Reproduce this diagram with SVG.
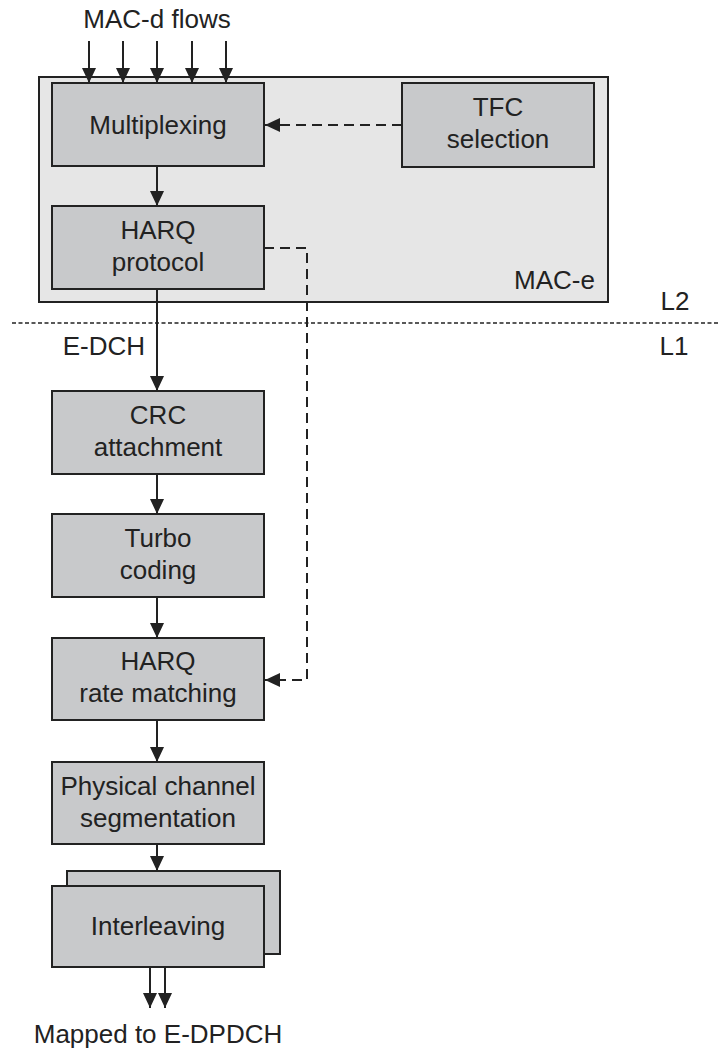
<svg xmlns="http://www.w3.org/2000/svg" width="718" height="1050" viewBox="0 0 718 1050">
<style>
.box{fill:#c8c9cb;stroke:#222;stroke-width:2}
.outer{fill:#e6e6e6;stroke:#222;stroke-width:2}
.t{font-family:"Liberation Sans",Arial,sans-serif;font-size:26px;fill:#222;text-anchor:middle}
.c{fill:none;stroke:#222;stroke-width:2}
.d{fill:none;stroke:#222;stroke-width:2;stroke-dasharray:10 6}
.dot{fill:none;stroke:#222;stroke-width:1.6;stroke-dasharray:4 2.5}
</style>
<defs>
<marker id="ah" viewBox="0 0 15 14" refX="15" refY="7" markerWidth="15" markerHeight="14" markerUnits="userSpaceOnUse" orient="auto">
<path d="M0,0 L15,7 L0,14 z" fill="#222"/>
</marker>
</defs>
<rect x="0" y="0" width="718" height="1050" fill="#fff"/>
<g id="mac-e">
<rect class="outer" x="39" y="77" width="569" height="225"/>
<text class="t" x="595" y="289" style="text-anchor:end">MAC-e</text>
</g>
<g id="layers">
<line class="dot" x1="12" y1="323" x2="718" y2="323"/>
<text class="t" x="675" y="310">L2</text>
<text class="t" x="674" y="355">L1</text>
</g>
<text class="t" x="157" y="28">MAC-d flows</text>
<g id="multiplexing">
<rect class="box" x="52" y="83" width="212" height="83"/>
<text class="t" x="158" y="134">Multiplexing</text>
</g>
<g id="tfc">
<rect class="box" x="402" y="83" width="192" height="84"/>
<text class="t" x="498" y="116">TFC</text>
<text class="t" x="498" y="148">selection</text>
</g>
<g id="harq-protocol">
<rect class="box" x="52" y="206" width="212" height="83"/>
<text class="t" x="158" y="239">HARQ</text>
<text class="t" x="158" y="271">protocol</text>
</g>
<text class="t" x="145" y="355" style="text-anchor:end">E-DCH</text>
<g id="crc">
<rect class="box" x="52" y="391" width="212" height="83"/>
<text class="t" x="158" y="424">CRC</text>
<text class="t" x="158" y="456">attachment</text>
</g>
<g id="turbo">
<rect class="box" x="52" y="514" width="212" height="83"/>
<text class="t" x="158" y="547">Turbo</text>
<text class="t" x="158" y="579">coding</text>
</g>
<g id="harq-rm">
<rect class="box" x="52" y="638" width="212" height="82"/>
<text class="t" x="158" y="670">HARQ</text>
<text class="t" x="158" y="702">rate matching</text>
</g>
<g id="pcs">
<rect class="box" x="52" y="762" width="212" height="82"/>
<text class="t" x="158" y="795">Physical channel</text>
<text class="t" x="158" y="827">segmentation</text>
</g>
<g id="interleaving">
<rect class="box" x="67" y="871" width="213" height="83"/>
<rect class="box" x="52" y="886" width="212" height="81"/>
<text class="t" x="158" y="935">Interleaving</text>
</g>
<text class="t" x="158" y="1043">Mapped to E-DPDCH</text>
<g id="connectors">
<line class="c" x1="89" y1="41" x2="89" y2="83" marker-end="url(#ah)"/>
<line class="c" x1="123" y1="41" x2="123" y2="83" marker-end="url(#ah)"/>
<line class="c" x1="157" y1="41" x2="157" y2="83" marker-end="url(#ah)"/>
<line class="c" x1="192" y1="41" x2="192" y2="83" marker-end="url(#ah)"/>
<line class="c" x1="226" y1="41" x2="226" y2="83" marker-end="url(#ah)"/>
<line class="c" x1="157" y1="166" x2="157" y2="206" marker-end="url(#ah)"/>
<line class="c" x1="157" y1="289" x2="157" y2="391" marker-end="url(#ah)"/>
<line class="c" x1="157" y1="474" x2="157" y2="514" marker-end="url(#ah)"/>
<line class="c" x1="157" y1="597" x2="157" y2="638" marker-end="url(#ah)"/>
<line class="c" x1="157" y1="720" x2="157" y2="762" marker-end="url(#ah)"/>
<line class="c" x1="157" y1="844" x2="157" y2="871" marker-end="url(#ah)"/>
<line class="c" x1="150" y1="967" x2="150" y2="1008" marker-end="url(#ah)"/>
<line class="c" x1="165" y1="967" x2="165" y2="1008" marker-end="url(#ah)"/>
<line class="d" x1="402" y1="125" x2="265" y2="125" marker-end="url(#ah)"/>
<path class="d" d="M264,248 H307 V680 H265" marker-end="url(#ah)"/>
</g>
</svg>
